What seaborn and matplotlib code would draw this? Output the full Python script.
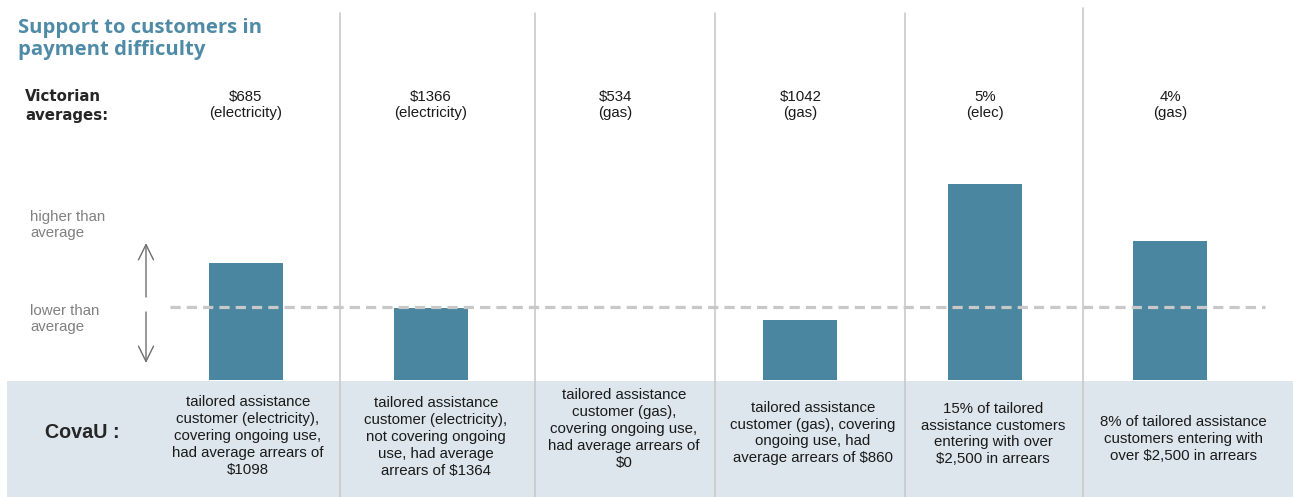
import numpy as np
import pandas as pd
import seaborn as sns
import matplotlib.pyplot as plt

sns.set_style('white')
plt.rcParams['font.family'] = ['Liberation Sans', 'DejaVu Sans']

W, H = 1293, 497

# ---------------- data ----------------
victorian_avg = ['$685\n(electricity)', '$1366\n(electricity)', '$534\n(gas)',
                 '$1042\n(gas)', '5%\n(elec)', '4%\n(gas)']
covau_text = ['tailored assistance\ncustomer (electricity),\ncovering ongoing use,\nhad average arrears of\n$1098',
              'tailored assistance\ncustomer (electricity),\nnot covering ongoing\nuse, had average\narrears of $1364',
              'tailored assistance\ncustomer (gas),\ncovering ongoing use,\nhad average arrears of\n$0',
              'tailored assistance\ncustomer (gas), covering\nongoing use, had\naverage arrears of $860',
              '15% of tailored\nassistance customers\nentering with over\n$2,500 in arrears',
              '8% of tailored assistance\ncustomers entering with\nover $2,500 in arrears']
# bar height relative to the Victorian average (1.0 = average)
relative = [1.60, 0.99, 0.0, 0.82, 2.68, 1.90]

df = pd.DataFrame({'col': range(len(relative)), 'rel': relative})

# ---------------- layout helpers (pixel -> data) ----------------
x0_px, dx_px = 246, 184.8      # centre of first bar, spacing
base_px, unit_px = 380, 73     # baseline, height of 1.0


def dx(px):
    return (px - x0_px) / dx_px


def dy(py):
    return (base_px - py) / unit_px


fig = plt.figure(figsize=(W / 100, H / 100), dpi=100)
ax = fig.add_axes([0, 0, 1, 1])

sns.barplot(data=df, x='col', y='rel', color='#4a869f', width=0.4,
            linewidth=0, saturation=1, ax=ax, zorder=3)

ax.set_xlim(dx(0), dx(W))
ax.set_ylim(dy(H), dy(0))
ax.axis('off')

# bottom band
ax.axhspan(dy(H), dy(381), xmin=7 / W, xmax=1, color='#dde6ec', zorder=1, lw=0)

# column separators
for px, top in zip([340, 535, 715, 905, 1083], [13, 13, 13, 13, 8]):
    ax.plot([dx(px), dx(px)], [dy(top), dy(H)], color='#c9c9c9', lw=1.2, zorder=2)

# average line
ax.plot([dx(170), dx(1265)], [1, 1], color='#c8c8c8', lw=2.3,
        linestyle=(0, (3.2, 1.9)), zorder=4)

# title
fig.text(18 / W, 1 - 39 / H, 'Support to customers in\npayment difficulty',
         color='#4f8ba6', fontsize=14.6, fontweight='bold', va='center',
         ha='left', linespacing=1.1, family=['Open Sans', 'DejaVu Sans'])

fig.text(25 / W, 1 - 106 / H, 'Victorian\naverages:', fontsize=10.8,
         fontweight='bold', va='center', ha='left', linespacing=1.4,
         family=['DejaVu Sans'])
fig.text(45 / W, 1 - 432 / H, 'CovaU :', fontsize=14.2, fontweight='bold',
         va='center', ha='left')

# higher / lower than average
fig.text(30 / W, 1 - 225 / H, 'higher than\naverage', fontsize=10.8,
         color='#808080', va='center', ha='left', linespacing=1.27)
fig.text(30 / W, 1 - 319 / H, 'lower than\naverage', fontsize=10.8,
         color='#808080', va='center', ha='left', linespacing=1.27)
arrow_kw = dict(arrowstyle='->,head_length=0.55,head_width=0.27', color='#6e6e6e',
                lw=1.0, mutation_scale=20, shrinkA=0, shrinkB=0)
ax.annotate('', xy=(dx(146), dy(243)), xytext=(dx(146), dy(297)), arrowprops=arrow_kw)
ax.annotate('', xy=(dx(146), dy(363)), xytext=(dx(146), dy(312)), arrowprops=arrow_kw)

# Victorian average labels
for i, t in enumerate(victorian_avg):
    ax.text(i, dy(105), t, ha='center', va='center', fontsize=10.8,
            color='#1a1a1a', linespacing=1.2)

# CovaU descriptions
text_x = [248, 436, 624, 813, 993, 1183]
text_y = [436, 437, 429, 433, 434, 439]
for t, px, py in zip(covau_text, text_x, text_y):
    ax.text(dx(px), dy(py), t, ha='center', va='center', fontsize=10.8,
            color='#1a1a1a', linespacing=1.27, zorder=5)

plt.savefig('out.png', dpi=100)
